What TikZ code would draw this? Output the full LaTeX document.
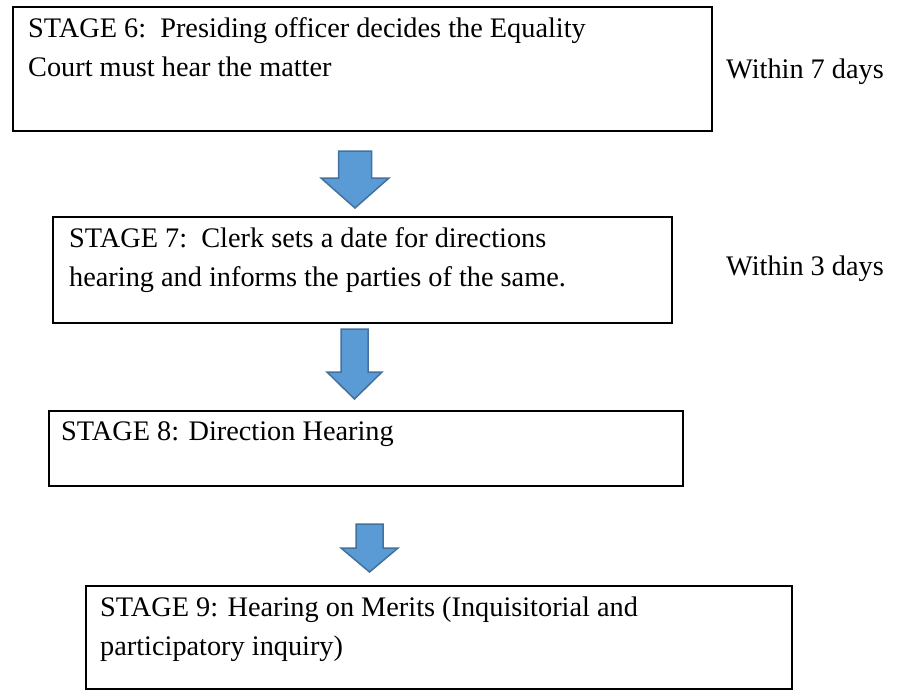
\documentclass[tikz,border=0pt]{standalone}
\usepackage{fontspec}
\setmainfont{Liberation Serif}
\definecolor{arrowblue}{HTML}{5B9BD5}
\definecolor{arrowedge}{HTML}{41719C}
\tikzset{
  stagebox/.style={draw=black, line width=2.6pt, rectangle, inner sep=0pt, outer sep=0pt},
  stagetext/.style={anchor=base west, inner sep=0pt, font=\fontsize{28.3}{39}\selectfont},
  blockarrow/.style={fill=arrowblue, draw=arrowedge, line width=1.5pt, line join=miter},
}
% cx, top, half shaft, half wing, wing y, tip y
\newcommand\downblock[6]{%
  \draw[blockarrow] (#1-#3,#2) -- (#1+#3,#2) -- (#1+#3,#5) -- (#1+#4,#5)
    -- (#1,#6) -- (#1-#4,#5) -- (#1-#3,#5) -- cycle;}
\begin{document}
\begin{tikzpicture}[x=1pt,y=-1pt]
\useasboundingbox (0,0) rectangle (905,691);
% boxes
\node[stagebox, minimum width=699pt, minimum height=124pt, anchor=north west] (b1) at (13,7) {};
\node[stagebox, minimum width=619pt, minimum height=106pt, anchor=north west] (b2) at (53,217) {};
\node[stagebox, minimum width=634pt, minimum height=75pt, anchor=north west] (b3) at (49,411) {};
\node[stagebox, minimum width=706pt, minimum height=103pt, anchor=north west] (b4) at (86,586) {};
% texts
\node[stagetext] (t1a) at (28,37) {STAGE 6:\ \ Presiding officer decides the Equality};
\node[stagetext] (t1b) at (28,76) {Court must hear the matter};
\node[stagetext] (t2a) at (69,247) {STAGE 7:\ \ Clerk sets a date for directions};
\node[stagetext] (t2b) at (69,286) {hearing and informs the parties of the same.};
\node[stagetext] (t3) at (61,440) {STAGE 8: Direction Hearing};
\node[stagetext] (t4a) at (100,616) {STAGE 9: Hearing on Merits (Inquisitorial and};
\node[stagetext] (t4b) at (100,655) {participatory inquiry)};
\node[stagetext] (w1) at (726,78) {Within 7 days};
\node[stagetext] (w2) at (726,275) {Within 3 days};
% block arrows
\downblock{355}{151}{16.5}{34}{178}{208}
\downblock{354.5}{329}{13.5}{27.5}{372}{399}
\downblock{369.5}{524}{13.5}{28.5}{548}{572}
\end{tikzpicture}
\end{document}
